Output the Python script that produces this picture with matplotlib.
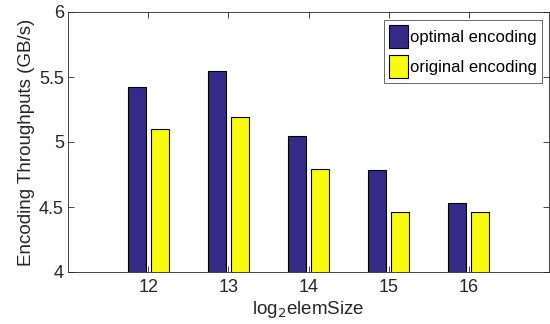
import matplotlib
matplotlib.use("Agg")
import matplotlib.pyplot as plt
import numpy as np

plt.rcParams['font.family'] = ['Liberation Sans', 'DejaVu Sans']

sizes = [12, 13, 14, 15, 16]
optimal = [5.425, 5.55, 5.05, 4.785, 4.53]
original = [5.10, 5.195, 4.79, 4.465, 4.46]
series_names = ["optimal encoding", "original encoding"]
colors = ["#352A87", "#F9FB0E"]
yticks = [4, 4.5, 5, 5.5, 6]
yticklabels = ["4", "4.5", "5", "5.5", "6"]

fig = plt.figure(figsize=(5.5, 3.24), dpi=100)
ax = fig.add_axes([68/550, 1 - 272/324, (549 - 68)/550, (272 - 12)/324])

x = np.array(sizes, dtype=float)
w = 0.225
off = 0.145
ax.bar(x - off, optimal, width=w, color=colors[0], edgecolor="black",
       linewidth=0.8, label=series_names[0])
ax.bar(x + off, original, width=w, color=colors[1], edgecolor="black",
       linewidth=0.8, label=series_names[1])

ax.set_xlim(11, 17)
ax.set_ylim(4, 6)
ax.set_xticks(sizes)
ax.set_xticklabels([str(s) for s in sizes], fontsize=13)
ax.set_yticks(yticks)
ax.set_yticklabels(yticklabels, fontsize=13)
ax.tick_params(direction="in", top=True, right=True, length=4, width=0.6,
               colors="#262626", pad=5)
ax.tick_params(axis="y", pad=3)
for s in ax.spines.values():
    s.set_linewidth(0.6)
    s.set_color("#262626")

ax.set_ylabel("Encoding Throughputs (GB/s)", fontsize=13.5, color="#262626", labelpad=3)
ax.set_xlabel("log$_2$elemSize", fontsize=13.5, color="#262626", labelpad=2)

leg = ax.legend(loc="upper right", bbox_to_anchor=(0.9854, 0.969), fontsize=12,
                frameon=True, fancybox=False, edgecolor="#262626",
                handlelength=1.15, handleheight=1.75, handletextpad=0.1,
                borderpad=0.3, labelspacing=0.4, borderaxespad=0)
leg.get_frame().set_linewidth(0.6)

fig.savefig("out.png", dpi=100)
